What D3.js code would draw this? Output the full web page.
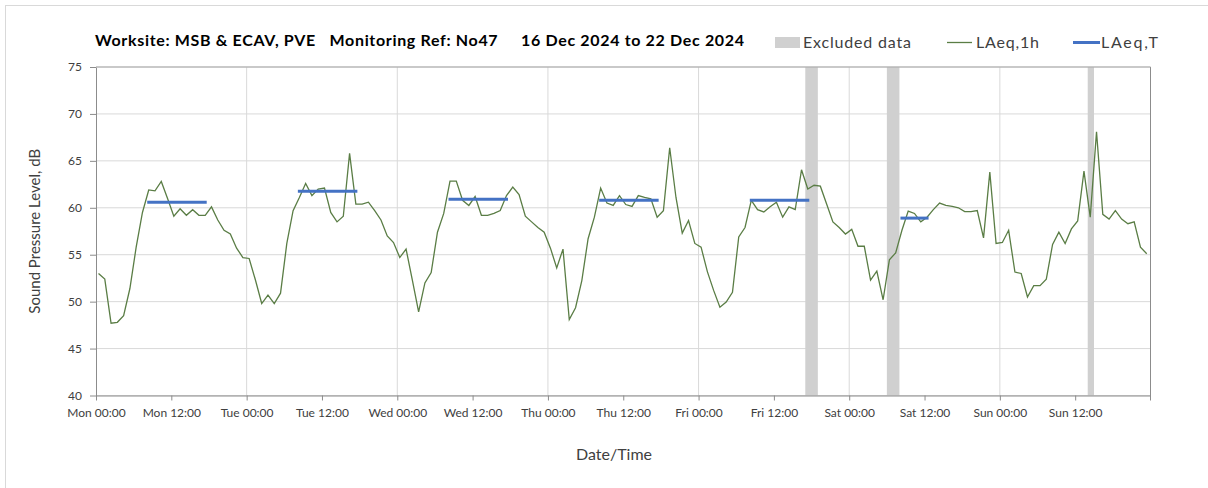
<!DOCTYPE html>
<html>
<head>
<meta charset="utf-8">
<script src="https://cdn.jsdelivr.net/npm/d3@7"></script>
<style>
  body { margin: 0; background: #fff; }
  svg text { font-family: Lato, "Open Sans", sans-serif; }
</style>
</head>
<body>
<svg id="chart" width="1208" height="488"></svg>
<script>
// hourly LAeq,1h readings, one list per day (00:00 .. 23:00)
var dayNames = ['Mon', 'Tue', 'Wed', 'Thu', 'Fri', 'Sat', 'Sun'];
var laeqMon = [53.0, 52.4, 47.7, 47.8, 48.5, 51.4, 55.8, 59.5, 61.9, 61.8, 62.8, 61.0, 59.1, 59.9, 59.2, 59.8, 59.2, 59.2, 60.1, 58.7, 57.6, 57.2, 55.7, 54.7];
var laeqTue = [54.6, 52.3, 49.8, 50.7, 49.8, 50.9, 56.2, 59.7, 61.1, 62.6, 61.3, 62.0, 62.1, 59.5, 58.5, 59.1, 65.8, 60.4, 60.4, 60.6, 59.7, 58.7, 57.0, 56.3];
var laeqWed = [54.7, 55.6, 52.3, 48.9, 52.0, 53.1, 57.4, 59.4, 62.85, 62.85, 60.8, 60.25, 61.2, 59.2, 59.2, 59.4, 59.7, 61.3, 62.2, 61.4, 59.1, 58.5, 57.9, 57.4];
var laeqThu = [55.7, 53.6, 55.6, 48.1, 49.35, 52.25, 56.7, 59.0, 62.1, 60.5, 60.25, 61.3, 60.35, 60.15, 61.3, 61.1, 60.95, 59.0, 59.7, 66.4, 61.1, 57.3, 58.65, 56.2];
var laeqFri = [55.8, 53.2, 51.2, 49.4, 49.95, 51.0, 56.9, 57.9, 60.8, 59.8, 59.55, 60.1, 60.6, 59.0, 60.1, 59.8, 64.05, 62.0, 62.4, 62.3, 60.4, 58.5, 57.9, 57.2];
var laeqSat = [57.7, 55.9, 55.9, 52.3, 53.25, 50.2, 54.45, 55.2, 57.6, 59.65, 59.4, 58.5, 59.0, 59.8, 60.5, 60.25, 60.15, 60.0, 59.6, 59.6, 59.7, 56.8, 63.8, 56.2];
var laeqSun = [56.3, 57.6, 53.15, 53.0, 50.5, 51.7, 51.7, 52.4, 56.1, 57.4, 56.2, 57.75, 58.6, 63.9, 59.0, 68.1, 59.3, 58.8, 59.7, 58.8, 58.3, 58.5, 55.8, 55.1];

// LAeq,T over the working period of each day
var ltDay = [0, 1, 2, 3, 4, 5];
var ltFromHour = [8, 8, 8, 8, 8, 8];
var ltToHour = [17, 17, 17, 17, 17, 12];
var ltValue = [60.6, 61.75, 60.9, 60.8, 60.8, 58.9];

// excluded data periods (hours from Mon 00:00)
var exclFrom = [113, 126, 158];
var exclTo = [115, 128, 159];

var yTicks = [40, 45, 50, 55, 60, 65, 70, 75];

var hourly = [].concat(laeqMon, laeqTue, laeqWed, laeqThu, laeqFri, laeqSat, laeqSun);
var t0 = new Date(2024, 11, 16, 0, 0);
function atHour(h) { return new Date(t0.getTime() + h * 3600000); }
var pointOffset = 0.4;

var svg = d3.select('#chart');
var margin = { left: 96, right: 1150.5, top: 67, bottom: 395.5 };

// chart area border
svg.append('rect')
  .attr('x', 5.5).attr('y', 5.5)
  .attr('width', 1220).attr('height', 500)
  .attr('fill', 'none').attr('stroke', '#d9d9d9');

var x = d3.scaleTime()
  .domain([t0, atHour(168)])
  .range([margin.left, margin.right]);
var y = d3.scaleLinear()
  .domain([40, 75])
  .range([margin.bottom, margin.top]);

// horizontal gridlines
svg.append('g')
  .selectAll('line')
  .data(yTicks)
  .enter().append('line')
  .attr('x1', margin.left).attr('x2', margin.right)
  .attr('y1', function(d) { return y(d); })
  .attr('y2', function(d) { return y(d); })
  .attr('stroke', '#d9d9d9');

// vertical gridlines at each midnight
svg.append('g')
  .selectAll('line')
  .data(d3.range(1, 7))
  .enter().append('line')
  .attr('x1', function(d) { return x(atHour(d * 24)); })
  .attr('x2', function(d) { return x(atHour(d * 24)); })
  .attr('y1', margin.top).attr('y2', margin.bottom)
  .attr('stroke', '#d9d9d9');

// excluded bands
svg.append('g')
  .selectAll('rect')
  .data(exclFrom)
  .enter().append('rect')
  .attr('x', function(d) { return x(atHour(d)); })
  .attr('width', function(d, i) { return x(atHour(exclTo[i])) - x(atHour(d)); })
  .attr('y', margin.top).attr('height', margin.bottom - margin.top)
  .attr('fill', '#d0d0d0');

// right border
svg.append('line')
  .attr('x1', margin.right).attr('x2', margin.right)
  .attr('y1', margin.top).attr('y2', margin.bottom + 5)
  .attr('stroke', '#8c8c8c');

// axes
var xTickHours = d3.range(0, 168, 12);
var xAxis = svg.append('g')
  .attr('transform', 'translate(0,' + margin.bottom + ')')
  .call(d3.axisBottom(x)
    .tickValues(xTickHours.map(atHour))
    .tickFormat(d3.timeFormat('%a %H:%M'))
    .tickSize(5).tickSizeOuter(0).tickPadding(8));
xAxis.select('.domain').attr('stroke', '#8c8c8c');
xAxis.selectAll('.tick line').attr('stroke', '#8c8c8c');
xAxis.selectAll('.tick text').attr('fill', '#404040').style('font-size', '12px');

var yAxis = svg.append('g')
  .attr('transform', 'translate(' + margin.left + ',0)')
  .call(d3.axisLeft(y).tickValues(yTicks).tickSize(6).tickSizeOuter(0).tickPadding(8));
yAxis.select('.domain').attr('stroke', '#8c8c8c');
yAxis.selectAll('.tick line').attr('stroke', '#8c8c8c');
yAxis.selectAll('.tick text').attr('fill', '#404040').style('font-size', '12px');

// top frame
svg.append('line')
  .attr('x1', margin.left).attr('x2', margin.right)
  .attr('y1', margin.top).attr('y2', margin.top)
  .attr('stroke', '#a6a6a6');

// LAeq,1h line
var line = d3.line()
  .x(function(d, i) { return x(atHour(i + pointOffset)); })
  .y(function(d) { return y(d); });
svg.append('path')
  .datum(hourly)
  .attr('d', line)
  .attr('fill', 'none')
  .attr('stroke', '#5a7d45')
  .attr('stroke-width', 1.3);

// LAeq,T segments
svg.append('g')
  .selectAll('line')
  .data(ltValue)
  .enter().append('line')
  .attr('x1', function(d, i) { return x(atHour(ltDay[i] * 24 + ltFromHour[i] + pointOffset)); })
  .attr('x2', function(d, i) { return x(atHour(ltDay[i] * 24 + ltToHour[i] + pointOffset)); })
  .attr('y1', function(d) { return y(d); })
  .attr('y2', function(d) { return y(d); })
  .attr('stroke', '#4472c4')
  .attr('stroke-width', 3)
  .attr('stroke-linecap', 'square');

// title
svg.append('text')
  .attr('x', 95).attr('y', 46)
  .style('font-size', '16px').style('font-weight', 'bold')
  .attr('fill', '#000')
  .attr('xml:space', 'preserve')
  .attr('textLength', 649).attr('lengthAdjust', 'spacing')
  .text('Worksite: MSB & ECAV, PVE   Monitoring Ref: No47     16 Dec 2024 to 22 Dec 2024');

// legend
var legend = svg.append('g').style('font-size', '16px').attr('fill', '#404040');
legend.append('rect').attr('x', 775).attr('y', 37).attr('width', 25).attr('height', 11).attr('fill', '#d0d0d0');
legend.append('text').attr('x', 803).attr('y', 48).attr('textLength', 108).text('Excluded data');
legend.append('line').attr('x1', 947).attr('x2', 972).attr('y1', 42.5).attr('y2', 42.5)
  .attr('stroke', '#5a7d45').attr('stroke-width', 1.3);
legend.append('text').attr('x', 976).attr('y', 48).attr('textLength', 63).text('LAeq,1h');
legend.append('line').attr('x1', 1073).attr('x2', 1100).attr('y1', 42.5).attr('y2', 42.5)
  .attr('stroke', '#4472c4').attr('stroke-width', 3);
legend.append('text').attr('x', 1101).attr('y', 48).attr('textLength', 57).text('LAeq,T');

// axis titles
svg.append('text')
  .attr('transform', 'translate(40,' + ((margin.top + margin.bottom) / 2) + ') rotate(-90)')
  .attr('text-anchor', 'middle')
  .style('font-size', '15px').attr('fill', '#404040')
  .text('Sound Pressure Level, dB');
svg.append('text')
  .attr('x', 614).attr('y', 460)
  .attr('text-anchor', 'middle')
  .style('font-size', '16px').attr('fill', '#404040')
  .text('Date/Time');
</script>
</body>
</html>
